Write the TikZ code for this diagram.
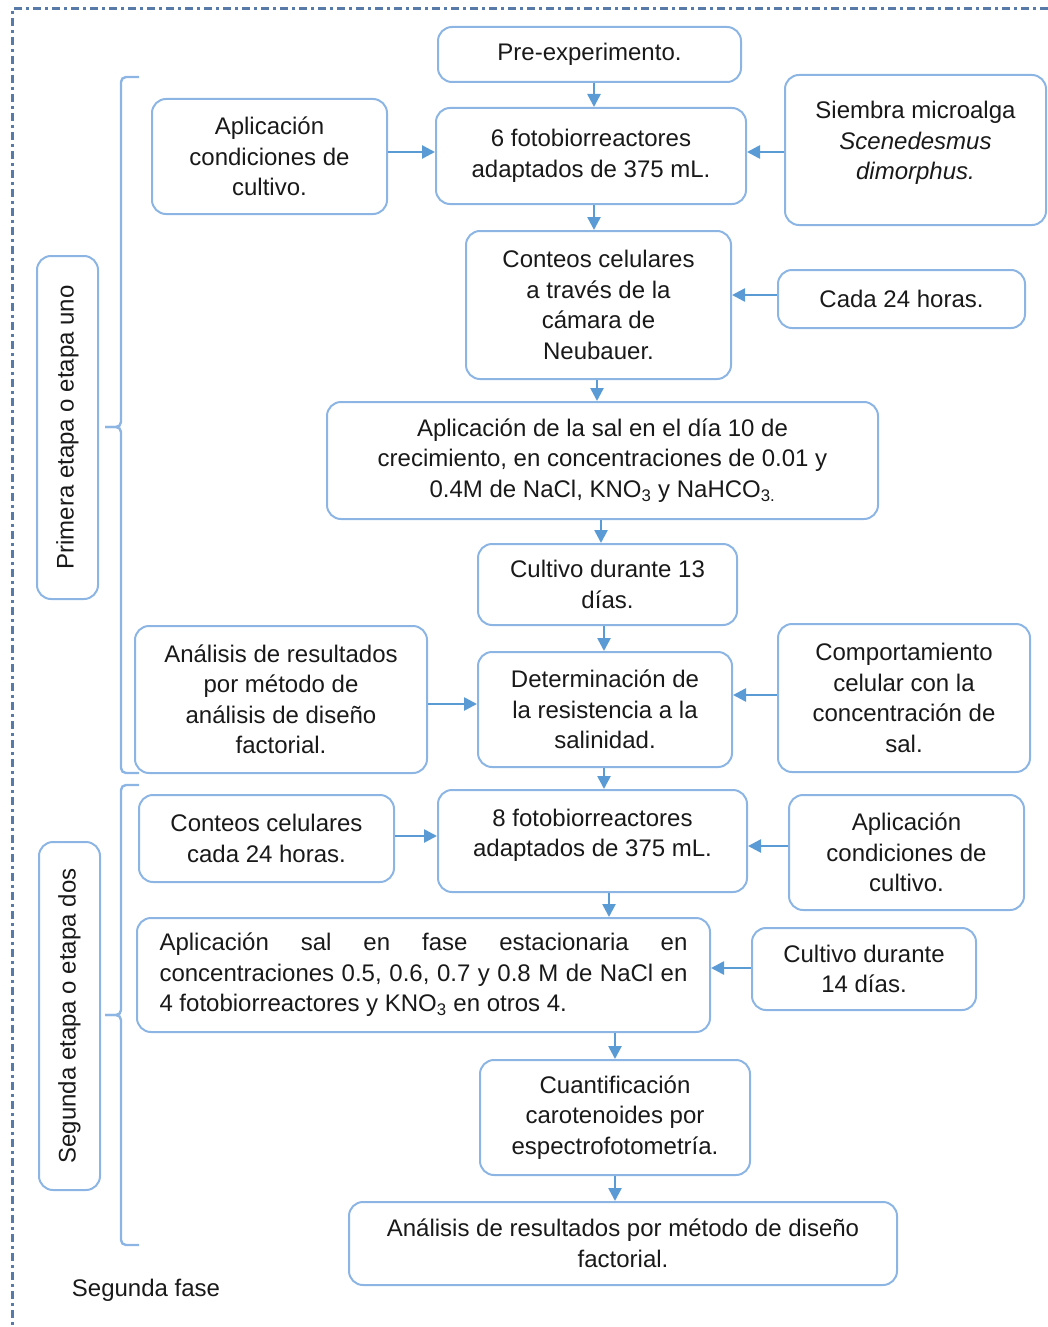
\documentclass[tikz,border=0pt]{standalone}
\usepackage{fontspec}
\setmainfont{Liberation Sans}
\usetikzlibrary{arrows.meta}
\definecolor{boxc}{RGB}{140,181,228}
\definecolor{arrc}{RGB}{91,155,213}
\definecolor{framec}{RGB}{88,122,168}
\definecolor{txt}{RGB}{25,25,25}
\tikzset{
  box/.style={draw=boxc, line width=2pt, rounded corners=14pt, align=center, inner sep=0pt,
    text=txt, font=\fontsize{24}{30.5}\selectfont},
  arr/.style={draw=arrc, line width=2.6pt, -{Triangle[length=13pt,width=13pt]}},
  brace/.style={draw=boxc, line width=2.4pt, rounded corners=5pt},
}
\begin{document}
\begin{tikzpicture}[x=1pt,y=-1pt]
\useasboundingbox (0,0) rectangle (1048,1327);
% frame
\draw[framec, line width=3pt, dash pattern=on 8pt off 4pt on 3pt off 4pt] (1048,9) -- (12,9) -- (12,1327);

% first stage
\node[box, minimum width=303pt, minimum height=55pt] (pre) at (589.5,54.5) {Pre-experimento.};
\node[box, minimum width=235pt, minimum height=115pt] (apl1) at (269.5,156.5) {Aplicación\\condiciones de\\cultivo.};
\node[box, minimum width=310pt, minimum height=96pt] (foto6) at (591,156) {6 fotobiorreactores\\adaptados de 375 mL.};
\node[box, minimum width=261pt, minimum height=150pt] (siem) at (915.5,150) {Siembra microalga\\\textit{Scenedesmus}\\\textit{dimorphus.}\\[-12pt]\mbox{}};
\node[box, minimum width=265pt, minimum height=148pt] (cont) at (598.5,305) {Conteos celulares\\a través de la\\cámara de\\Neubauer.};
\node[box, minimum width=247pt, minimum height=58pt] (cada) at (901.5,299) {Cada 24 horas.};
\node[box, minimum width=551pt, minimum height=117pt] (sal) at (602.5,460.5) {Aplicación de la sal en el día 10 de\\crecimiento, en concentraciones de 0.01 y\\0.4M de NaCl, KNO\textsubscript{3} y NaHCO\textsubscript{3.}};
\node[box, minimum width=259pt, minimum height=81pt] (cul13) at (607.5,584.5) {Cultivo durante 13\\días.};
\node[box, minimum width=292pt, minimum height=147pt] (anal) at (281,699.5) {Análisis de resultados\\por método de\\análisis de diseño\\factorial.};
\node[box, minimum width=254pt, minimum height=115pt] (det) at (605,709.5) {Determinación de\\la resistencia a la\\salinidad.};
\node[box, minimum width=252pt, minimum height=148pt] (comp) at (904,698) {Comportamiento\\celular con la\\concentración de\\sal.};

% second stage
\node[box, minimum width=255pt, minimum height=87pt] (cont2) at (266.5,838.5) {Conteos celulares\\cada 24 horas.};
\node[box, minimum width=309pt, minimum height=102pt] (foto8) at (592.5,841) {8 fotobiorreactores\\adaptados de 375 mL.\\[-14pt]\mbox{}};
\node[box, minimum width=235pt, minimum height=115pt] (apl2) at (906.5,852.5) {Aplicación\\condiciones de\\cultivo.};
\node[box, minimum width=573pt, minimum height=114pt, text width=528pt, align=justify] (fase) at (423.5,975)
  {Aplicación sal en fase estacionaria en\linebreak concentraciones 0.5, 0.6, 0.7 y 0.8 M de NaCl en\linebreak 4 fotobiorreactores y KNO\textsubscript{3} en otros 4.};
\node[box, minimum width=224pt, minimum height=82pt] (cul14) at (864,969) {Cultivo durante\\14 días.};
\node[box, minimum width=270pt, minimum height=115pt] (cuan) at (615,1117.5) {Cuantificación\\carotenoides por\\espectrofotometría.};
\node[box, minimum width=548pt, minimum height=83pt] (fin) at (623,1243.5) {Análisis de resultados por método de diseño\\factorial.};

% stage labels
\node[box, rotate=90, minimum width=343pt, minimum height=61pt] (lab1) at (67.5,427.5) {Primera etapa o etapa uno};
\node[box, rotate=90, minimum width=348pt, minimum height=61pt] (lab2) at (69.5,1016) {Segunda etapa o etapa dos};
\node[text=txt, font=\fontsize{24}{30}\selectfont, inner sep=0pt] (fase2) at (146,1290) {Segunda fase};

% braces
\draw[brace] (139,77) -- (121,77) -- (121,427) -- (105,427);
\draw[brace] (105,427) -- (121,427) -- (121,773) -- (139,773);
\draw[brace] (139,785) -- (121,785) -- (121,1015) -- (105,1015);
\draw[brace] (105,1015) -- (121,1015) -- (121,1245) -- (139,1245);

% vertical arrows
\draw[arr] (pre.south -| 594,0) -- (foto6.north -| 594,0);
\draw[arr] (foto6.south -| 594,0) -- (cont.north -| 594,0);
\draw[arr] (cont.south -| 597,0) -- (sal.north -| 597,0);
\draw[arr] (sal.south -| 601,0) -- (cul13.north -| 601,0);
\draw[arr] (cul13.south -| 604,0) -- (det.north -| 604,0);
\draw[arr] (det.south -| 604,0) -- (foto8.north -| 604,0);
\draw[arr] (foto8.south -| 609,0) -- (fase.north -| 609,0);
\draw[arr] (fase.south -| 615,0) -- (cuan.north -| 615,0);
\draw[arr] (cuan.south -| 615,0) -- (fin.north -| 615,0);

% horizontal arrows
\draw[arr] (apl1.east |- 0,152) -- (foto6.west |- 0,152);
\draw[arr] (siem.west |- 0,152) -- (foto6.east |- 0,152);
\draw[arr] (cada.west |- 0,295) -- (cont.east |- 0,295);
\draw[arr] (anal.east |- 0,704) -- (det.west |- 0,704);
\draw[arr] (comp.west |- 0,695) -- (det.east |- 0,695);
\draw[arr] (cont2.east |- 0,836) -- (foto8.west |- 0,836);
\draw[arr] (apl2.west |- 0,846) -- (foto8.east |- 0,846);
\draw[arr] (cul14.west |- 0,968) -- (fase.east |- 0,968);
\end{tikzpicture}
\end{document}
